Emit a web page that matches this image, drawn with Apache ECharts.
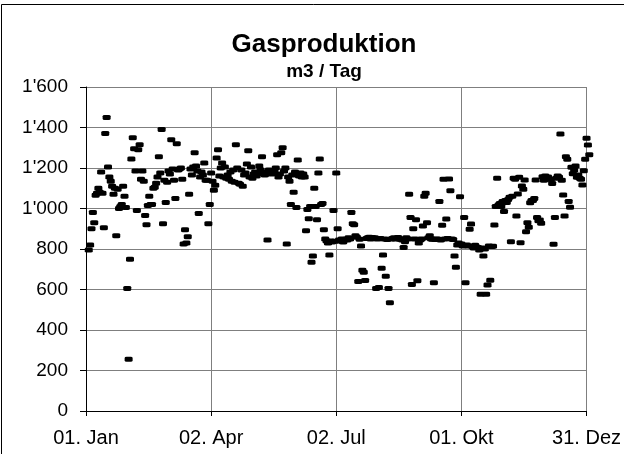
<!DOCTYPE html>
<html>
<head>
<meta charset="utf-8">
<script src="https://cdn.jsdelivr.net/npm/echarts@6/dist/echarts.min.js"></script>
<style>
html,body{margin:0;padding:0;background:#fff;}
#chart{width:624px;height:454px;}
</style>
</head>
<body>
<div id="chart"></div>
<script>
// Day-of-year index of the first value (0 = 01. Jan)
const startDay = 2;
// Daily gas production, m3 / day
const gasValues = [
  795, 820, 900, 980, 930, 1065, 1075, 1100, 1080, 1180,
  1075, 905, 1370, 1450, 1205, 1155, 1135, 1110, 1070, 1100,
  865, 1095, 1000, 1010, 1020, 1110, 1060, 1005, 605, 255,
  750, 1245, 1350, 1295, 1185, 990, 1290, 1315, 1145, 1185,
  1135, 965, 920, 1015, 1060, 1020, 1020, 1100, 1105, 1125,
  1155, 1255, 1175, 1390, 925, 1140, 1030, 1130, 1185, 1170,
  1340, 1195, 1140, 1050, 1320, 1190, 1195, 1200, 1145, 825,
  895, 830, 860, 1070, 1195, 1165, 1205, 1275, 1210, 1185,
  975, 1155, 1180, 1165, 1225, 1140, 1140, 925, 1020, 1175,
  1135, 1090, 1115, 1250, 1290, 1160, 1200, 1225, 1155, 1205,
  1150, 1165, 1145, 1180, 1135, 1190, 1130, 1315, 1200, 1125,
  1120, 1190, 1110, 1165, 1175, 1220, 1285, 1155, 1205, 1150,
  1170, 1180, 1160, 1175, 1210, 1190, 1255, 1170, 1165, 1180,
  845, 1190, 1185, 1170, 1175, 1180, 1200, 1265, 1155, 1170,
  1275, 1300, 1185, 1200, 825, 1155, 1135, 1020, 1165, 1080,
  1180, 1005, 1240, 1160, 1175, 1155, 1170, 1155, 890, 995,
  950, 1010, 735, 765, 1100, 1010, 945, 1175, 1245, 1020,
  1025, 895, 850, 840, 830, 770, 840, 835, 990, 838,
  1175, 900, 845, 840, 850, 835, 845, 848, 845, 855,
  850, 980, 925, 920, 865, 858, 640, 848, 815, 695,
  685, 645, 852, 855, 858, 850, 857, 852, 855, 605,
  850, 610, 852, 705, 770, 850, 665, 847, 605, 535,
  850, 852, 855, 850, 852, 857, 850, 848, 845, 808,
  836, 855, 850, 1070, 955, 625, 900, 850, 945, 643,
  830, 845, 850, 913, 1060, 1075, 930, 855, 865, 850,
  848, 633, 847, 850, 848, 1035, 845, 917, 1145, 850,
  948, 852, 1146, 1088, 850, 847, 765, 710, 820, 830,
  1058, 825, 815, 955, 633, 820, 815, 897, 923, 812,
  805, 818, 810, 808, 795, 577, 805, 765, 800, 577,
  622, 815, 646, 812, 814, 918, 1010, 1150, 1017, 1025,
  1010, 1035, 985, 1040, 1030, 1045, 1055, 836, 1060, 1150,
  1145, 963, 1072, 1154, 831, 1111, 1095, 1141, 885, 930,
  907, 1029, 1040, 1039, 1050, 1141, 956, 940, 943, 927,
  1157, 1140, 1161, 1150, 1155, 1145, 1144, 1124, 823, 956,
  1150, 1160, 1154, 1368, 1140, 1067, 963, 1256, 1243, 1034,
  1006, 1204, 1171, 1190, 1210, 1154, 1165, 1150, 1144, 1116,
  1187, 1243, 1347, 1314, 1265
];
// X tick positions (day index) and their labels
const xTickDays = [0, 91, 182, 273, 364];
const xTickLabels = ['01. Jan', '02. Apr', '02. Jul', '01. Okt', '31. Dez'];
// Y axis range
const yMin = 0, yMax = 1600, yStep = 200;

const titleText = 'Gasproduktion';
const subtitleText = 'm3 / Tag';

const FONT = "'Liberation Sans', Arial, Helvetica, sans-serif";

function fmtThousands(v) {
  if (v >= 1000) {
    return Math.floor(v / 1000) + "'" + String(v % 1000).padStart(3, '0');
  }
  return String(v);
}

const points = gasValues.map((v, i) => [startDay + i, v]);

const chart = echarts.init(document.getElementById('chart'), null, {renderer: 'canvas'});
chart.setOption({
  animation: false,
  backgroundColor: '#ffffff',
  title: [
    {
      text: titleText,
      left: 324, top: 32, textAlign: 'center', padding: 0,
      textStyle: {fontFamily: FONT, fontSize: 26, fontWeight: 'bold', color: '#000'}
    },
    {
      text: subtitleText,
      left: 324, top: 62, textAlign: 'center', padding: 0,
      textStyle: {fontFamily: FONT, fontSize: 19, fontWeight: 'bold', color: '#000'}
    }
  ],
  graphic: [{
    type: 'rect',
    shape: {x: 1.5, y: 4.5, width: 700, height: 600},
    style: {fill: 'none', stroke: '#000', lineWidth: 1},
    silent: true,
    z: 0
  }],
  grid: {left: 86, right: 37, top: 87, bottom: 43, containLabel: false},
  xAxis: {
    type: 'value',
    min: 0, max: 364, interval: 91,
    axisLine: {show: true, onZero: false, lineStyle: {color: '#000', width: 1}},
    axisTick: {show: true, inside: false, length: 5, lineStyle: {color: '#000'}},
    splitLine: {show: true, lineStyle: {color: '#7f7f7f', width: 1}},
    axisLabel: {
      show: true, margin: 17, color: '#000', fontFamily: FONT, fontSize: 20,
      formatter: function (v) {
        const k = xTickDays.indexOf(Math.round(v));
        return k >= 0 ? xTickLabels[k] : '';
      }
    }
  },
  yAxis: {
    type: 'value',
    min: yMin, max: yMax, interval: yStep,
    axisLine: {show: true, lineStyle: {color: '#000', width: 1}},
    axisTick: {show: true, inside: false, length: 6, lineStyle: {color: '#000'}},
    splitLine: {show: true, lineStyle: {color: '#7f7f7f', width: 1}},
    axisLabel: {
      show: true, margin: 18, color: '#000', fontFamily: FONT, fontSize: 19,
      formatter: fmtThousands
    }
  },
  series: [{
    type: 'scatter',
    data: points,
    clip: false,
    symbol: 'roundRect',
    symbolSize: [8, 5],
    itemStyle: {color: '#000', opacity: 1},
    z: 5
  }]
});
</script>
</body>
</html>
